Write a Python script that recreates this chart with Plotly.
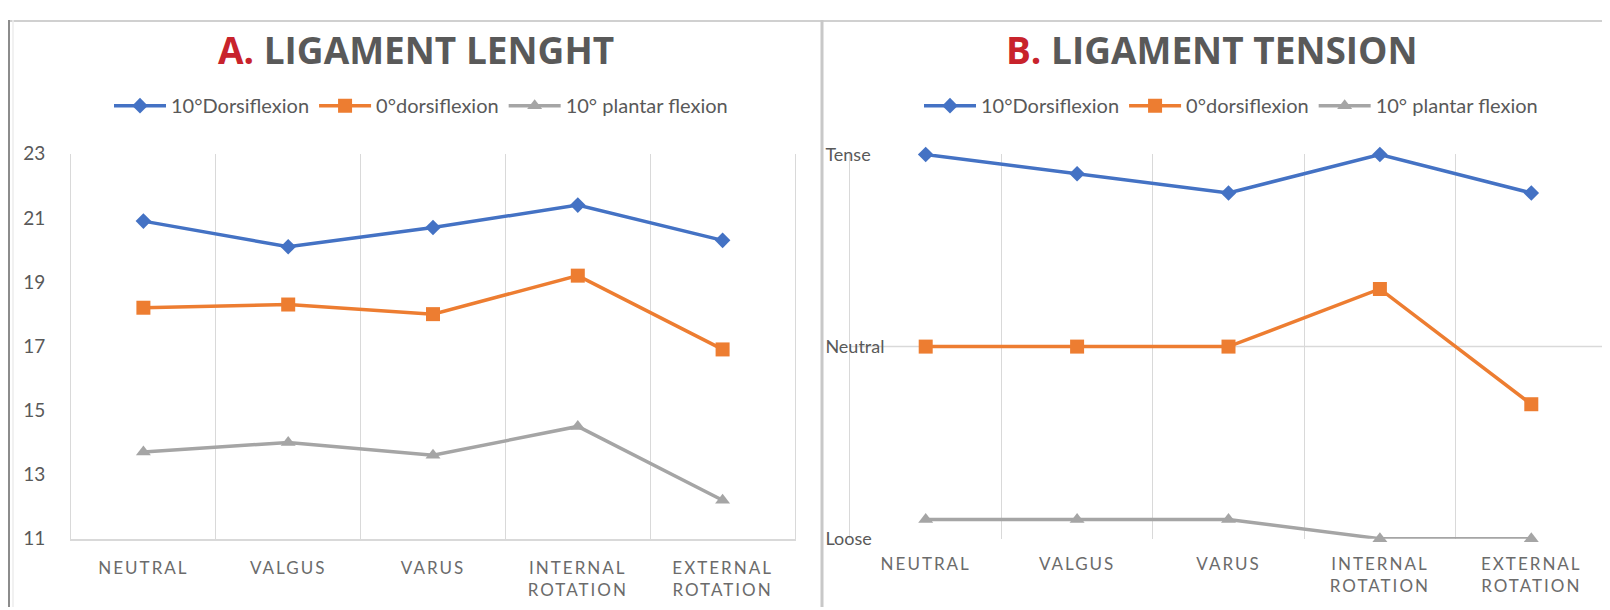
import plotly.graph_objects as go

# ---- data ----
categories = ["NEUTRAL", "VALGUS", "VARUS", "INTERNAL ROTATION", "EXTERNAL ROTATION"]
category_lines = [["NEUTRAL"], ["VALGUS"], ["VARUS"], ["INTERNAL", "ROTATION"], ["EXTERNAL", "ROTATION"]]
series_names = ["10°Dorsiflexion", "0°dorsiflexion", "10° plantar flexion"]

length_dorsi = [20.9, 20.1, 20.7, 21.4, 20.3]
length_zero = [18.2, 18.3, 18.0, 19.2, 16.9]
length_plantar = [13.7, 14.0, 13.6, 14.5, 12.2]

tension_dorsi = [10, 9.5, 9, 10, 9]
tension_zero = [5, 5, 5, 6.5, 3.5]
tension_plantar = [0.5, 0.5, 0.5, 0, 0]

length_ticks = [11, 13, 15, 17, 19, 21, 23]
tension_tickvals = [0, 5, 10]
tension_ticktext = ["Loose", "Neutral", "Tense"]

# ---- style ----
W, H = 1610, 610
OFFX = 8  # page body margin offset (horizontal)
colors = ["#4472C4", "#ED7D31", "#A5A5A5"]
symbols = ["diamond", "square", "triangle-up"]
msizes = [12, 14, 13]
GRID = "#d9d9d9"
TXT = "#595959"
FONT = "Lato"


def px_x(p):
    return (p - OFFX) / W


def px_y(p):
    return 1 - p / H


def spaced(lines):
    return "<br>".join("<span style='letter-spacing:2px'>%s</span>" % s for s in lines)


cat_ticktext = [spaced(l) for l in category_lines]

fig = go.Figure()

left_vals = [length_dorsi, length_zero, length_plantar]
right_vals = [tension_dorsi, tension_zero, tension_plantar]

for i in range(3):
    fig.add_trace(go.Scatter(
        x=categories, y=left_vals[i], name=series_names[i], mode="lines+markers",
        line=dict(color=colors[i], width=3.5),
        marker=dict(symbol=symbols[i], size=msizes[i], color=colors[i]),
        xaxis="x", yaxis="y", legend="legend", cliponaxis=False))
for i in range(3):
    fig.add_trace(go.Scatter(
        x=categories, y=right_vals[i], name=series_names[i], mode="lines+markers",
        line=dict(color=colors[i], width=3.5),
        marker=dict(symbol=symbols[i], size=msizes[i], color=colors[i]),
        xaxis="x2", yaxis="y2", legend="legend2", cliponaxis=False))

plot_top, plot_bot = 139, 539
ydom = [px_y(plot_bot), px_y(plot_top)]

xcommon = dict(type="category", tickson="boundaries", showgrid=True, gridcolor=GRID,
               gridwidth=1, ticks="", range=[-0.5, 4.5], zeroline=False,
               tickvals=categories, ticktext=cat_ticktext,
               tickfont=dict(family=FONT, size=17, color="#6b6b6b"),
               ticklabelstandoff=13, fixedrange=True)

legend_common = dict(orientation="h", xanchor="center", yanchor="middle",
                     font=dict(family=FONT, size=20, color=TXT),
                     bgcolor="rgba(0,0,0,0)", itemwidth=52, tracegroupgap=0)

fig.update_layout(
    width=W, height=H,
    margin=dict(l=0, r=0, t=0, b=0),
    paper_bgcolor="white", plot_bgcolor="white",
    xaxis=dict(domain=[px_x(71), px_x(795)], anchor="y", showline=True,
               linecolor=GRID, linewidth=1.5, **xcommon),
    yaxis=dict(domain=ydom, anchor="x", range=[11, 23], tickvals=length_ticks,
               showgrid=False, zeroline=False, showline=True, mirror=True,
               linecolor=GRID, linewidth=1, ticks="",
               ticklabelstandoff=21,
               tickfont=dict(family=FONT, size=19, color=TXT)),
    xaxis2=dict(domain=[px_x(850), px_x(1607)], anchor="y2", showline=False, **xcommon),
    yaxis2=dict(domain=ydom, anchor="x2", range=[0, 10.02], tickvals=tension_tickvals,
                ticktext=tension_ticktext, showgrid=False, zeroline=False,
                showline=True, mirror=True, linecolor=GRID, linewidth=1,
                ticks="", ticklabelposition="inside", ticklabeloverflow="allow",
                ticklabelstandoff=-24,
                tickfont=dict(family=FONT, size=18, color=TXT)),
    legend=dict(x=px_x(421), y=px_y(89), **legend_common),
    legend2=dict(x=px_x(1231), y=px_y(89), **legend_common),
    showlegend=True,
)

# neutral reference line on tension panel
fig.add_shape(type="line", xref="x2 domain", yref="y2", x0=0, x1=1, y0=5, y1=5,
              line=dict(color=GRID, width=1.5), layer="below")

# frame lines
fig.add_shape(type="line", xref="paper", yref="paper", x0=0, x1=1,
              y0=1 - 1 / H, y1=1 - 1 / H, line=dict(color="#d0d0d0", width=2))
fig.add_shape(type="line", xref="paper", yref="paper", x0=1 / W, x1=1 / W,
              y0=0, y1=1, line=dict(color="#8c8c8c", width=2))
fig.add_shape(type="line", xref="paper", yref="paper", x0=px_x(13), x1=px_x(13),
              y0=0, y1=1, line=dict(color="#ececec", width=1.5))
fig.add_shape(type="line", xref="paper", yref="paper", x0=px_x(822), x1=px_x(822),
              y0=0, y1=1, line=dict(color="#c8c8c8", width=3))

# titles
title_font = dict(family="Open Sans", size=37, color=TXT, weight="bold")
fig.add_annotation(text="<span style='color:#C8232C'>A.</span> LIGAMENT LENGHT",
                   xref="paper", yref="paper", x=px_x(416), y=px_y(31),
                   xanchor="center", yanchor="middle", showarrow=False, font=title_font)
fig.add_annotation(text="<span style='color:#C8232C'>B.</span> LIGAMENT TENSION",
                   xref="paper", yref="paper", x=px_x(1212), y=px_y(31),
                   xanchor="center", yanchor="middle", showarrow=False, font=title_font)

fig.write_html("out.html")
